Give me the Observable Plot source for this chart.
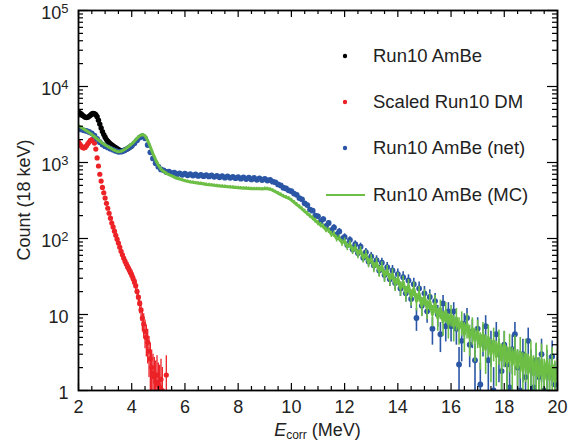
<!DOCTYPE html>
<html><head><meta charset="utf-8">
<script src="https://cdn.jsdelivr.net/npm/d3@7"></script>
<script src="https://cdn.jsdelivr.net/npm/@observablehq/plot@0.6"></script>
<style>body{margin:0;background:#fff} svg{display:block}</style>
</head><body><div id="chart"></div>
<script>
// ---- data (counts per 18 keV) ----
// Run10 AmBe (net): energies 2.0 .. 20.0 MeV, step 0.1
const netStart = 2.0, netStep = 0.1;
const netCounts = [
 2800,2720,2650,2600,2520,2420,2250,2050,1850,1720,
 1640,1580,1520,1470,1420,1380,1390,1430,1490,1570,
 1660,1790,1960,2130,2230,2080,1700,1360,1130,980,
 880,810,790,750,760,725,735,700,718,690,
 712,680,700,672,695,665,688,660,682,655,
 675,648,668,640,662,632,655,628,648,622,
 642,612,638,605,630,598,625,592,618,588,
 610,580,590,560,548,515,500,465,455,430,
 420,390,375,340,328,290,275,240,232,200,
 196,168,180,145,160,128,140,112,124,98,
 105,82,96,72,84,64,78,56,66,50,
 58,44,52,38,48,33,42,29,38,26,
 34,22,31,19,28,16,25,9,22,13,
 19,11,17,6.5,15,10,5.5,14,7,11,
 7,11,6.5,2.2,4.5,7.5,9,4,6,2.5,
 6.5,1.2,5,7,2.5,4,1.0,5.5,3,1.8,
 4,2.2,1.1,3.5,5.5,2,1.0,3,1.5,4.5,
 2,1.1,2.5,1.5,3,1.0,2,1.6,2.8,1.2,
 1.5
];
// Run10 AmBe (MC): energies 2.0 .. 20.0 MeV, step 0.1
const mcStart = 2.0, mcStep = 0.1;
const mcCounts = [
 3050,2900,2750,2620,2480,2330,2180,2040,1920,1800,
 1700,1620,1550,1480,1420,1380,1400,1460,1540,1640,
 1760,1900,2080,2250,2340,2250,1950,1600,1300,1080,
 920,820,760,720,690,665,640,620,605,590,
 575,565,555,548,540,535,530,522,515,510,
 505,500,495,490,486,482,478,475,472,468,
 465,462,460,458,455,452,452,450,450,448,
 455,452,445,430,412,395,378,362,350,338,
 320,300,280,262,245,228,212,198,185,172,
 160,150,144,130,128,114,114,100,101,88,
 92,78,84,70,76,62,70,55,62,48,
 54,42,48,37,43,32,38,29,34,25,
 30,22,27,19,24,17,22,15,19,13,
 17,12,15,10,14,9,12,8,11,7.5,
 10,7,9,6.5,8,5.5,7.5,5,6.5,4.5,
 6,3.8,5.5,3.5,5,3,4.5,2.8,4.2,2.5,
 4,2.3,3.6,2.2,3.4,2,3.2,1.8,3,1.7,
 2.8,1.6,2.6,1.5,2.5,1.4,2.4,1.4,2.2,1.3,
 2
];
// Run10 AmBe (total): energies 2.0 .. 4.0 MeV, step 0.05
const amBeStart = 2.0, amBeStep = 0.05;
const amBeCounts = [
 4600,4480,4350,4200,4050,3950,3900,3950,4050,4200,
 4350,4420,4400,4250,4000,3600,3200,2850,2550,2330,
 2150,2000,1900,1820,1760,1700,1650,1600,1560,1520,
 1480,1440,1410,1420,1440,1460,1490,1525,1565,1610,
 1660
];
// Scaled Run10 DM: energies 2.0 .. 5.3 MeV, step 0.05 (null = empty bin)
const dmStart = 2.0, dmStep = 0.05;
const dmCounts = [
 1850,1750,1650,1580,1550,1580,1660,1760,1860,1950,
 2000,1980,1800,1500,1150,900,700,570,470,400,
 340,290,250,215,185,160,142,125,110,98,
 87,77,68,61,55,50,46,42,39,36,
 33,30,27,24,20,17,14,11.5,9,7.5,
 6,5,4.3,3.3,2.6,2.0,1.7,1.5,1.3,1.6,
 1.2,1.1,1.4,1.0,null,null,1.6
];

// ---- axes / legend text ----
const xTickValues = [2,4,6,8,10,12,14,16,18,20];
const yTickValues = [1,10,100,1000,10000,100000];
const yTickLabels = ["1","10","10^2","10^3","10^4","10^5"];
const yTitle = "Count (18 keV)";
const xTitleMain = "E", xTitleSub = "corr", xTitleRest = " (MeV)";
const seriesNames = ["Run10 AmBe","Scaled Run10 DM","Run10 AmBe (net)","Run10 AmBe (MC)"];
const seriesColors = ["#000000","#ec2227","#2a56a5","#6cbe45"];

// ---- build tables ----
function table(start, step, counts) {
  return counts.map((c, i) => ({e: +(start + i * step).toFixed(3), c}))
    .filter(d => d.c != null)
    .map(d => ({...d, lo: Math.max(d.c - Math.sqrt(d.c), 0.5), hi: d.c + Math.sqrt(d.c)}));
}
const net = table(netStart, netStep, netCounts);
const mc = table(mcStart, mcStep, mcCounts);
const amBe = table(amBeStart, amBeStep, amBeCounts);
const dm = table(dmStart, dmStep, dmCounts);

const xMinor = d3.range(2, 20.01, 0.5).filter(v => !xTickValues.includes(v));
const yMinor = [];
for (const dec of [1,10,100,1000,10000]) for (let m = 2; m <= 9; m++) yMinor.push(m * dec);

const W = 571, H = 444, mL = 78, mR = 14, mT = 10, mB = 54;
const pw = W - mL - mR, ph = H - mT - mB;
const tk = {stroke: "black", strokeWidth: 1.2};

const chart = Plot.plot({
  width: W, height: H,
  marginLeft: mL, marginRight: mR, marginTop: mT, marginBottom: mB,
  style: {fontFamily: "'Liberation Sans', Arial, sans-serif", fontSize: "18px", color: "#222", background: "white"},
  x: {domain: [2, 20]},
  y: {type: "log", domain: [1, 1e5]},
  marks: [
    Plot.ruleX(dm, {x: "e", y1: "lo", y2: "hi", stroke: seriesColors[1], strokeWidth: 1.3, clip: true}),
    Plot.dot(dm, {x: "e", y: "c", r: 2.6, fill: seriesColors[1], clip: true}),
    Plot.dot(amBe, {x: "e", y: "c", r: 2.7, fill: seriesColors[0], clip: true}),
    Plot.ruleX(net, {x: "e", y1: "lo", y2: "hi", stroke: seriesColors[2], strokeWidth: 1.6, clip: true}),
    Plot.dot(net, {x: "e", y: "c", r: 2.9, fill: seriesColors[2], clip: true}),
    Plot.ruleX(mc, {x: "e", y1: "lo", y2: "hi", stroke: seriesColors[3], strokeWidth: 1.6, clip: true}),
    Plot.line(mc, {x: "e", y: "c", stroke: seriesColors[3], strokeWidth: 3, clip: true}),
    Plot.frame({stroke: "black", strokeWidth: 1.8}),
    // inward ticks on all four sides
    Plot.ruleX(xTickValues, {...tk, insetTop: ph - 7}),
    Plot.ruleX(xMinor, {...tk, insetTop: ph - 4}),
    Plot.ruleX(xTickValues, {...tk, insetBottom: ph - 7}),
    Plot.ruleX(xMinor, {...tk, insetBottom: ph - 4}),
    Plot.ruleY(yTickValues, {...tk, insetRight: pw - 10}),
    Plot.ruleY(yMinor, {...tk, insetRight: pw - 5}),
    Plot.ruleY(yTickValues, {...tk, insetLeft: pw - 10}),
    Plot.ruleY(yMinor, {...tk, insetLeft: pw - 5}),
    Plot.axisX({ticks: xTickValues, tickSize: 0, tickPadding: 10, label: null, tickFormat: d => String(d)}),
    Plot.axisY({ticks: yTickValues, tickSize: 0, tickPadding: 10, label: null,
      tickFormat: d => yTickLabels[yTickValues.indexOf(d)], dy: 3})
  ]
});
document.getElementById("chart").appendChild(chart);

const svg = d3.select(chart);
// superscripts on y tick labels
svg.selectAll('g[aria-label="y-axis tick label"] text').each(function() {
  const t = this.textContent;
  if (t.includes("^")) {
    const [b, p] = t.split("^");
    this.textContent = "";
    const s = d3.select(this);
    s.append("tspan").text(b);
    s.append("tspan").attr("dy", "-0.5em").attr("font-size", "0.72em").text(p);
  }
});

const font = "'Liberation Sans', Arial, sans-serif";
// y title
svg.append("text").attr("transform", `translate(30,${mT + ph / 2}) rotate(-90)`)
  .attr("text-anchor", "middle").attr("font-family", font).attr("font-size", 18).attr("fill", "#222")
  .text(yTitle);
// x title with italic E and subscript
const xt = svg.append("text").attr("x", mL + pw / 2).attr("y", 436)
  .attr("text-anchor", "middle").attr("font-family", font).attr("font-size", 18).attr("fill", "#222");
xt.append("tspan").attr("font-style", "italic").text(xTitleMain);
xt.append("tspan").attr("font-size", 12).attr("dy", 3).text(xTitleSub);
xt.append("tspan").attr("dy", -3).text(xTitleRest);

// legend
const lg = svg.append("g").attr("font-family", font).attr("font-size", 18.5).attr("fill", "#222")
  .attr("text-anchor", "start");
const rowY = [56, 102, 148, 195];
seriesNames.forEach((name, i) => {
  if (i < 3) {
    lg.append("circle").attr("cx", 345).attr("cy", rowY[i]).attr("r", 2.2).attr("fill", seriesColors[i]);
  } else {
    lg.append("line").attr("x1", 326).attr("x2", 365).attr("y1", rowY[i]).attr("y2", rowY[i])
      .attr("stroke", seriesColors[i]).attr("stroke-width", 2);
  }
  lg.append("text").attr("x", 373).attr("y", rowY[i]).attr("dy", "0.35em").attr("text-anchor", "start").text(name);
});
</script>
</body></html>
